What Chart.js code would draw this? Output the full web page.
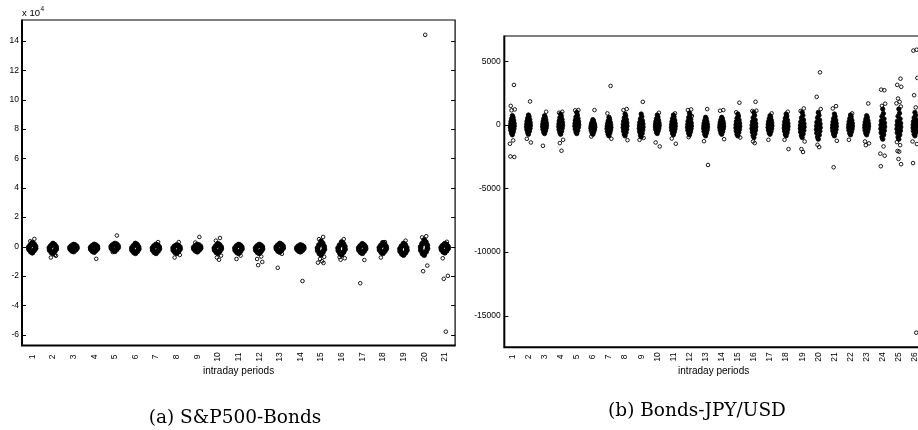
<!DOCTYPE html>
<html><head><meta charset="utf-8">
<script src="https://cdn.jsdelivr.net/npm/chart.js@4.4.1/dist/chart.umd.min.js"></script>
<style>
html,body{margin:0;padding:0;background:#fff;overflow:hidden;width:918px;height:430px;position:relative;}
#wa{position:absolute;left:0;top:0;width:460px;height:430px;}
#wb{position:absolute;left:460px;top:0;width:470px;height:430px;}
.cap{position:absolute;font-family:"DejaVu Serif",serif;font-size:18.5px;color:#000;white-space:nowrap;transform:translateX(-50%);line-height:22px;}
</style></head><body>
<div id="wa"><canvas id="ca" width="460" height="430"></canvas></div>
<div id="wb"><canvas id="cb" width="470" height="430"></canvas></div>
<div class="cap" style="left:235px;top:406px">(a) S&amp;P500-Bonds</div>
<div class="cap" style="left:697px;top:399px">(b) Bonds-JPY/USD</div>
<script>
// ---------- Panel (a): S&P500-Bonds, values in units of 10^4 ----------
const catsA = ['1','2','3','4','5','6','7','8','9','10','11','12','13','14','15','16','17','18','19','20','21'];
const yTicksA = [-6,-4,-2,0,2,4,6,8,10,12,14];
const coreA = [
  [-0.42,-0.34,-0.26,-0.19,-0.12,-0.05,0.02,0.09,0.17,0.26],
  [-0.46,-0.39,-0.31,-0.24,-0.17,-0.09,-0.02,0.05,0.12,0.2],
  [-0.34,-0.29,-0.23,-0.17,-0.11,-0.06,0,0.04,0.09,0.13],
  [-0.38,-0.32,-0.25,-0.19,-0.13,-0.07,0,0.04,0.09,0.14],
  [-0.32,-0.26,-0.19,-0.12,-0.06,0,0.05,0.11,0.16,0.2],
  [-0.46,-0.39,-0.32,-0.25,-0.17,-0.1,-0.03,0.04,0.12,0.2],
  [-0.46,-0.39,-0.31,-0.24,-0.16,-0.1,-0.03,0.03,0.09,0.14],
  [-0.46,-0.39,-0.32,-0.25,-0.17,-0.1,-0.04,0.02,0.06,0.1],
  [-0.35,-0.29,-0.23,-0.17,-0.11,-0.06,0,0.04,0.09,0.13],
  [-0.46,-0.39,-0.31,-0.24,-0.16,-0.1,-0.03,0.04,0.11,0.18],
  [-0.46,-0.39,-0.32,-0.25,-0.17,-0.1,-0.03,0.03,0.08,0.13],
  [-0.46,-0.39,-0.32,-0.25,-0.17,-0.1,-0.03,0.03,0.08,0.13],
  [-0.37,-0.31,-0.24,-0.17,-0.1,-0.04,0.03,0.08,0.14,0.2],
  [-0.35,-0.3,-0.25,-0.19,-0.13,-0.08,-0.02,0.02,0.06,0.1],
  [-0.56,-0.47,-0.38,-0.28,-0.19,-0.1,0,0.1,0.21,0.35],
  [-0.56,-0.47,-0.38,-0.28,-0.19,-0.1,0,0.09,0.19,0.3],
  [-0.46,-0.39,-0.31,-0.24,-0.16,-0.1,-0.03,0.04,0.1,0.18],
  [-0.46,-0.39,-0.31,-0.23,-0.15,-0.08,0,0.07,0.15,0.25],
  [-0.58,-0.5,-0.42,-0.33,-0.25,-0.16,-0.08,0.02,0.11,0.2],
  [-0.58,-0.47,-0.36,-0.25,-0.14,-0.03,0.08,0.19,0.3,0.44],
  [-0.42,-0.35,-0.28,-0.2,-0.13,-0.06,0,0.06,0.13,0.18]
];
const outA = [
  [0.52,0.36],
  [-0.58,-0.75,-0.63],
  [],
  [-0.84],
  [0.75,-0.38],
  [],
  [0.3],
  [0.3,-0.75,-0.58],
  [0.65,0.27],
  [0.58,0.4,-0.62,-0.75,-0.9],
  [-0.62,-0.85],
  [-0.68,-0.85,-1.05,-1.27],
  [-0.5,-1.45],
  [-2.35],
  [0.65,0.5,-0.7,-0.85,-1.0,-1.1,-1.12],
  [0.5,-0.72,-0.8,-0.9],
  [-0.92,-2.5],
  [0.3,-0.75],
  [0.4],
  [0.7,0.62,-1.3,-1.68,14.42],
  [0.32,-0.8,-2.0,-2.2,-5.8]
];
const jitCoreA = [0,-0.08,0.09,-0.16,0.16,-0.17,0.15,-0.1,0.08,0];
const jitOutA = [0.1,-0.1,0.15,-0.05,0.05,-0.15,0.12];

// ---------- Panel (b): Bonds-JPY/USD ----------
const catsB = ['1','2','3','4','5','6','7','8','9','10','11','12','13','14','15','16','17','18','19','20','21','22','23','24','25','26'];
const yTicksB = [-15000,-10000,-5000,0,5000];
const coreB = [
  [-780,-660,-540,-420,-300,-190,-80,20,130,250,370,490,610,730],
  [-730,-610,-490,-370,-260,-150,-40,60,170,290,410,530,650,780],
  [-680,-570,-460,-350,-240,-140,-40,60,160,270,380,490,600,720],
  [-730,-610,-490,-370,-250,-140,-30,80,200,320,440,570,700,860],
  [-680,-560,-440,-320,-200,-90,20,130,250,370,500,630,770,990],
  [-730,-630,-530,-440,-350,-260,-180,-100,-20,60,140,220,310,420],
  [-860,-740,-620,-510,-400,-300,-200,-100,0,100,210,320,450,600],
  [-860,-730,-600,-470,-340,-210,-80,40,160,290,420,560,710,860],
  [-940,-800,-660,-530,-400,-280,-160,-40,80,200,330,470,650,860],
  [-680,-570,-460,-350,-250,-150,-50,50,150,260,370,490,630,780],
  [-780,-660,-540,-420,-310,-200,-90,20,130,250,370,500,640,780],
  [-780,-660,-540,-420,-300,-190,-80,40,160,290,430,580,760,940],
  [-860,-740,-620,-500,-390,-280,-170,-70,40,140,250,360,480,600],
  [-730,-620,-510,-400,-300,-200,-100,0,100,200,300,400,500,600],
  [-860,-730,-600,-470,-350,-230,-110,10,130,260,390,530,690,860],
  [-990,-840,-690,-550,-410,-280,-150,-20,110,250,400,560,760,990],
  [-730,-620,-510,-400,-290,-180,-70,40,150,260,370,490,610,730],
  [-860,-740,-610,-480,-360,-240,-120,0,120,250,380,530,690,860],
  [-990,-840,-700,-560,-420,-290,-160,-30,100,240,390,550,750,990],
  [-1120,-950,-790,-640,-490,-350,-210,-70,70,220,380,560,760,990],
  [-860,-730,-600,-480,-360,-240,-120,0,120,240,370,510,670,860],
  [-780,-660,-540,-420,-310,-200,-90,20,130,250,370,500,640,780],
  [-780,-660,-540,-430,-320,-210,-100,0,110,220,340,460,590,730],
  [-1120,-940,-770,-610,-450,-300,-150,0,150,310,480,670,900,1250],
  [-1120,-950,-780,-620,-460,-310,-160,-10,140,300,480,680,920,1250],
  [-860,-730,-600,-470,-340,-220,-100,20,140,270,410,570,760,990]
];
const outB = [
  [3150,1500,1220,1150,-1220,-1480,-2520,-2480],
  [1850,-1090,-1380],
  [1040,-1640],
  [1040,960,-1170,-1430,-2030],
  [1170,1150],
  [1170,-910],
  [3070,910,-1090],
  [1250,1170,-1200],
  [1820,-1170,-1020],
  [960,-1380,-1690],
  [910,-1070,-1480],
  [1220,1170,700,-960],
  [1250,-1280,-3150],
  [1170,1120,-1120],
  [1750,1000,-990],
  [1820,1100,1120,-1300,-1430],
  [910,-1170],
  [1040,-1170,-1900],
  [1300,1100,-1300,-1900,-2130],
  [4140,2210,1250,-1560,-1740],
  [1480,1300,-1250,-3330],
  [910,-1170],
  [1690,-1300,-1450,-1590],
  [2730,2780,1670,1500,-1690,-2260,-2420,-3250],
  [3640,3150,3000,2080,1820,1700,1450,-1350,-1590,-2050,-2100,-2680,-3090],
  [5920,5850,3700,2340,1380,-1300,-1500,-3000,-16350]
];
const jitCoreB = [0,-0.05,0.06,-0.1,0.1,-0.12,0.12,-0.11,0.11,-0.09,0.08,-0.05,0.04,0];
const jitOutB = [0.1,-0.1,0.15,-0.05,0.05,-0.15,0.12,-0.12,0.08,-0.08,0.02,-0.02,0.14];

Chart.defaults.font.family = '"Liberation Sans", Arial, sans-serif';
Chart.defaults.color = '#000';

function pts(groups, jit) {
  const d = [];
  groups.forEach((vals, i) => vals.forEach((v, j) => d.push({x: i + 1 + jit[j % jit.length], y: v})));
  return d;
}

const framePlugin = {
  id: 'frame',
  afterDatasetsDraw(chart, args, o) {
    const {ctx, chartArea: a, scales: {x, y}} = chart;
    ctx.save();
    ctx.strokeStyle = '#000';
    ctx.lineWidth = 1.2;
    ctx.beginPath(); ctx.moveTo(a.left, a.top); ctx.lineTo(a.right, a.top); ctx.lineTo(a.right, a.bottom); ctx.stroke();
    ctx.lineWidth = 2;
    ctx.beginPath(); ctx.moveTo(a.left, a.top - 0.6); ctx.lineTo(a.left, a.bottom); ctx.lineTo(a.right + 0.6, a.bottom); ctx.stroke();
    ctx.lineWidth = 1;
    y.ticks.forEach(t => {
      const py = Math.round(y.getPixelForValue(t.value)) + 0.5;
      ctx.beginPath();
      ctx.moveTo(a.left, py); ctx.lineTo(a.left + 4, py);
      ctx.moveTo(a.right, py); ctx.lineTo(a.right - 4, py);
      ctx.stroke();
    });
    ctx.fillStyle = '#000';
    ctx.font = '8.5px "Liberation Sans", Arial, sans-serif';
    ctx.textAlign = 'center'; ctx.textBaseline = 'middle';
    o.labels.forEach((lab, i) => {
      const px = x.getPixelForValue(i + 1);
      ctx.save(); ctx.translate(px, o.labelY); ctx.rotate(-Math.PI / 2); ctx.fillText(lab, 0, 0); ctx.restore();
    });
    ctx.font = '10px "Liberation Sans", Arial, sans-serif';
    ctx.fillText(o.title, (a.left + a.right) / 2, o.titleY);
    if (o.exp) {
      ctx.textAlign = 'left'; ctx.textBaseline = 'alphabetic';
      ctx.font = '9.5px "Liberation Sans", Arial, sans-serif';
      ctx.fillText('x 10', a.left, 16);
      const w = ctx.measureText('x 10').width;
      ctx.font = '6.5px "Liberation Sans", Arial, sans-serif';
      ctx.fillText(o.exp, a.left + w + 0.5, 11);
    }
    ctx.restore();
  }
};

function makeChart(id, cats, core, out, jc, jo, yt, ymin, ymax, yw, pad, tpad, coreR, opts) {
  return new Chart(document.getElementById(id), {
    type: 'scatter',
    data: {
      datasets: [
        {data: pts(core, jc), pointRadius: coreR, pointBorderWidth: 0.8, pointBackgroundColor: '#000', pointBorderColor: '#000', showLine: false},
        {data: pts(out, jo), pointRadius: 1.8, pointBorderWidth: 0.9, pointBackgroundColor: 'rgba(0,0,0,0)', pointBorderColor: '#000', showLine: false}
      ]
    },
    options: {
      responsive: false, animation: false, devicePixelRatio: 1, events: [],
      layout: {padding: pad},
      plugins: {legend: {display: false}, tooltip: {enabled: false}, frame: Object.assign({labels: cats}, opts)},
      scales: {
        x: {type: 'linear', min: 0.5, max: cats.length + 0.5, display: false},
        y: {
          type: 'linear', min: ymin, max: ymax,
          afterBuildTicks: s => { s.ticks = yt.map(v => ({value: v})); },
          afterFit: s => { s.width = yw; },
          grid: {display: false, drawTicks: false},
          border: {display: false},
          ticks: {font: {size: 8.5}, color: '#000', padding: tpad, autoSkip: false, callback: v => String(v)}
        }
      }
    },
    plugins: [framePlugin]
  });
}

makeChart('ca', catsA, coreA, outA, jitCoreA, jitOutA, yTicksA, -6.75, 15.43, 22,
  {left: 0, top: 20, right: 2.5, bottom: 84.4}, 3, 2.5,
  {labelY: 357, titleY: 371, title: 'intraday periods', exp: '4'});
makeChart('cb', catsB, coreB, outB, jitCoreB, jitOutB, yTicksB, -17500, 7000, 44.3,
  {left: 0, top: 36, right: 7, bottom: 82.7}, 3.6, 2.2,
  {labelY: 357, titleY: 371, title: 'intraday periods', exp: null});
</script>
</body></html>
